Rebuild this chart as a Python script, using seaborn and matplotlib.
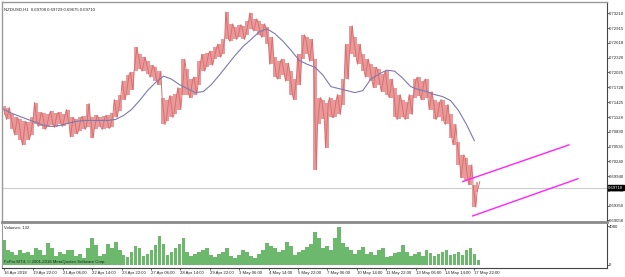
import numpy as np
import pandas as pd
import matplotlib
matplotlib.use("Agg")
import matplotlib.pyplot as plt
import seaborn as sns

# NZDUSD H1 snapshot (one sample per ~4 bars)
header_text = "NZDUSD,H1  0.69708 0.69729 0.69675 0.69710"
last_price = 0.69710

price_high = [
    0.7136, 0.7132, 0.7118, 0.7112, 0.7108, 0.7104, 0.7102, 0.7112, 0.7142, 0.7122,
    0.7120, 0.7118, 0.7124, 0.7120, 0.7122, 0.7118, 0.7128, 0.7112, 0.7108, 0.7112,
    0.7114, 0.7140, 0.7112, 0.7116, 0.7112, 0.7114, 0.7116, 0.7120, 0.7148, 0.7158,
    0.7185, 0.7197, 0.7203, 0.7253, 0.7239, 0.7233, 0.7225, 0.7217, 0.7213, 0.7205,
    0.7152, 0.7148, 0.7156, 0.7160, 0.7172, 0.7229, 0.7209, 0.7189, 0.7193, 0.7225,
    0.7239, 0.7241, 0.7245, 0.7253, 0.7259, 0.7269, 0.7324, 0.7300, 0.7294, 0.7298,
    0.7296, 0.7306, 0.7322, 0.7310, 0.7306, 0.7300, 0.7294, 0.7273, 0.7233, 0.7225,
    0.7229, 0.7221, 0.7205, 0.7189, 0.7239, 0.7278, 0.7273, 0.7269, 0.7229, 0.7152,
    0.7148, 0.7142, 0.7152, 0.7148, 0.7158, 0.7189, 0.7259, 0.7296, 0.7273, 0.7259,
    0.7239, 0.7229, 0.7219, 0.7213, 0.7209, 0.7199, 0.7205, 0.7189, 0.7172, 0.7158,
    0.7148, 0.7144, 0.7158, 0.7189, 0.7193, 0.7185, 0.7189, 0.7164, 0.7148, 0.7144,
    0.7148, 0.7138, 0.7118, 0.7098, 0.7063, 0.7037, 0.7031, 0.7017, 0.6977, 0.6983,
]
price_low = [
    0.7116, 0.7108, 0.7088, 0.7077, 0.7067, 0.7057, 0.7067, 0.7077, 0.7098, 0.7094,
    0.7088, 0.7092, 0.7096, 0.7092, 0.7098, 0.7094, 0.7098, 0.7073, 0.7079, 0.7084,
    0.7088, 0.7092, 0.7071, 0.7088, 0.7092, 0.7088, 0.7090, 0.7092, 0.7112, 0.7124,
    0.7148, 0.7158, 0.7168, 0.7205, 0.7209, 0.7205, 0.7199, 0.7193, 0.7185, 0.7178,
    0.7098, 0.7104, 0.7112, 0.7118, 0.7128, 0.7158, 0.7158, 0.7152, 0.7158, 0.7178,
    0.7205, 0.7213, 0.7217, 0.7229, 0.7233, 0.7239, 0.7269, 0.7265, 0.7269, 0.7273,
    0.7269, 0.7278, 0.7290, 0.7286, 0.7278, 0.7273, 0.7259, 0.7219, 0.7193, 0.7189,
    0.7197, 0.7185, 0.7158, 0.7148, 0.7178, 0.7229, 0.7239, 0.7225, 0.7007, 0.7098,
    0.7108, 0.7051, 0.7112, 0.7112, 0.7118, 0.7138, 0.7189, 0.7239, 0.7233, 0.7219,
    0.7205, 0.7193, 0.7185, 0.7172, 0.7178, 0.7164, 0.7158, 0.7152, 0.7112, 0.7108,
    0.7112, 0.7108, 0.7118, 0.7152, 0.7156, 0.7148, 0.7152, 0.7128, 0.7108, 0.7112,
    0.7104, 0.7098, 0.7071, 0.7057, 0.7017, 0.6991, 0.6987, 0.6977, 0.6932, 0.6962,
]
# moving average, one value every 8 bars
ma_values = [
    0.7128, 0.7120, 0.7114, 0.7108, 0.7102, 0.7096, 0.7094, 0.7096, 0.7100, 0.7104,
    0.7106, 0.7106, 0.7106, 0.7106, 0.7108, 0.7116, 0.7128, 0.7146, 0.7166, 0.7182,
    0.7195, 0.7189, 0.7178, 0.7170, 0.7162, 0.7164, 0.7178, 0.7197, 0.7217, 0.7237,
    0.7255, 0.7269, 0.7284, 0.7290, 0.7280, 0.7265, 0.7247, 0.7227, 0.7219, 0.7213,
    0.7197, 0.7174, 0.7170, 0.7166, 0.7162, 0.7166, 0.7189, 0.7199, 0.7207, 0.7205,
    0.7191, 0.7174, 0.7168, 0.7164, 0.7158, 0.7154, 0.7146, 0.7126, 0.7098, 0.7065,
]
volumes = [
    2620, 1570, 1360, 1050, 1570, 1260, 1360, 1050, 1780, 1570,
    1050, 2300, 1780, 940, 1360, 1150, 1570, 1570, 940, 1150,
    730, 1780, 2820, 2090, 940, 1150, 2200, 1780, 2410, 1570,
    1050, 840, 1360, 1990, 1780, 940, 1150, 1570, 2090, 3030,
    2200, 1050, 1360, 1780, 2200, 2820, 1360, 940, 1150, 1360,
    1570, 1780, 1050, 840, 1150, 1360, 1780, 940, 730, 1050,
    1570, 1360, 940, 730, 1150, 1570, 2300, 1990, 1780, 1360,
    1570, 2410, 1990, 1050, 1360, 1570, 1880, 2200, 3450, 2820,
    1780, 1990, 1570, 2820, 3970, 2300, 1880, 1570, 1150, 1570,
    1880, 1150, 1360, 1050, 1570, 1780, 840, 940, 1260, 1360,
    2090, 1360, 940, 1150, 1360, 940, 1570, 1260, 940, 1150,
    1360, 1570, 1050, 1150, 1360, 1050, 1570, 1780, 1150, 520,
]
volume_text = "Volumes: 132"
volume_max = 4080

# drawn channel
upper_channel_bars = [115, 141.75]
upper_channel = [0.6983, 0.7057]
lower_channel_bars = [117.5, 144]
lower_channel = [0.6914, 0.6989]

price_ticks = ["0.69058", "0.69350", "0.69648", "0.69940", "0.70240", "0.70535",
               "0.70830", "0.71128", "0.71425", "0.71728", "0.72025", "0.72320",
               "0.72618", "0.72915", "0.73210"]
date_labels = ["16 Apr 2018", "19 Apr 22:00", "21 Apr 06:00", "22 Apr 14:00",
               "23 Apr 22:00", "27 Apr 06:00", "28 Apr 14:00", "29 Apr 22:00",
               "3 May 06:00", "4 May 14:00", "5 May 22:00", "7 May 06:00",
               "10 May 14:00", "11 May 22:00", "13 May 06:00", "14 May 14:00",
               "17 May 22:00"]
copyright_text = "FxPro MT4, © 2001-2018 MetaQuotes Software Corp."

sns.set_style("white")
plt.rcParams["font.family"] = ["Liberation Sans", "DejaVu Sans"]
fs = 3.1

df = pd.DataFrame({"bar": np.arange(len(price_high)), "high": price_high,
                   "low": price_low, "volume": volumes})
ma = pd.DataFrame({"bar": np.arange(len(ma_values)) * 2, "ma": ma_values})

# zigzag through high/low of each sample -> dense bar texture
n = len(df)
zx = np.repeat(df["bar"].values, 2) + np.tile([-0.35, 0.35], n)
zy = np.empty(2 * n)
for i in range(n):
    a, b = (df["high"][i], df["low"][i]) if i % 2 == 0 else (df["low"][i], df["high"][i])
    zy[2 * i], zy[2 * i + 1] = a, b

fig = plt.figure(figsize=(6.25, 2.77), dpi=100)
ax = fig.add_axes([0.0032, 0.1986, 0.968, 0.7942])
axv = fig.add_axes([0.0032, 0.0325, 0.968, 0.1588], sharex=ax)

x_max = 151.25

# price
ax.axhline(last_price, color="#cccccc", lw=0.8, zorder=1)
ax.fill_between(df["bar"], df["low"], df["high"], step="mid", color="#e89a9a",
                lw=0, zorder=2)
ax.plot(zx, zy, color="#dc6e6e", lw=0.7, zorder=2)
sns.lineplot(data=ma, x="bar", y="ma", ax=ax, color="#7a7ab4", lw=0.8, zorder=3)
sns.lineplot(x=upper_channel_bars, y=upper_channel, ax=ax, color="#ff22ff", lw=1.0, zorder=4)
sns.lineplot(x=lower_channel_bars, y=lower_channel, ax=ax, color="#ff22ff", lw=1.0, zorder=4)

ax.set_xlim(-0.5, x_max)
ax.set_ylim(0.6902, 0.7344)
ax.set_xlabel("")
ax.set_ylabel("")
ax.yaxis.tick_right()
ax.set_yticks([float(t) for t in price_ticks])
ax.set_yticklabels(price_ticks)
ax.tick_params(axis="y", right=True, length=1.2, width=0.5, pad=0.5, labelsize=fs,
               colors="#222222")
ax.tick_params(axis="x", bottom=False, labelbottom=False)
for side in ["top", "left"]:
    ax.spines[side].set_color("#9a9a9a")
    ax.spines[side].set_linewidth(1.0)
ax.spines["right"].set_color("#444444")
ax.spines["right"].set_linewidth(0.8)
ax.spines["bottom"].set_color("#8a8a8a")
ax.spines["bottom"].set_linewidth(2.0)

ax.text(0.004, 0.975, header_text, transform=ax.transAxes, fontsize=fs,
        ha="left", va="top", color="#222222")
ax.text(1.002, last_price, f"{last_price:.5f}", transform=ax.get_yaxis_transform(),
        fontsize=fs, ha="left", va="center", color="white", zorder=10,
        bbox=dict(boxstyle="square,pad=0.12", fc="black", ec="black"), clip_on=False)

# volume
axv.bar(df["bar"], df["volume"], width=0.95, color="#6cb86c", edgecolor="none")
axv.set_ylim(-314, 4289)
axv.set_yticks([0, volume_max])
axv.set_yticklabels(["0", str(volume_max)])
axv.yaxis.tick_right()
axv.tick_params(axis="y", right=True, length=1.2, width=0.5, pad=0.5, labelsize=fs,
                colors="#222222")
tick_step = 7.375
axv.set_xticks([i * tick_step for i in range(len(date_labels))])
axv.set_xticklabels(date_labels, ha="left")
axv.tick_params(axis="x", bottom=True, length=1.5, width=0.5, pad=0.8, labelsize=fs,
                colors="#222222")
axv.set_xlim(-0.5, x_max)
axv.spines["top"].set_visible(False)
axv.spines["left"].set_color("#9a9a9a")
axv.spines["right"].set_color("#444444")
axv.spines["right"].set_linewidth(0.8)
axv.spines["bottom"].set_color("#444444")
axv.spines["bottom"].set_linewidth(0.8)
axv.text(0.004, 0.96, volume_text, transform=axv.transAxes, fontsize=fs,
         ha="left", va="top", color="#222222")
axv.text(0.004, 0.1, copyright_text, transform=axv.transAxes, fontsize=fs,
         ha="left", va="bottom", color="#222222")

fig.savefig("out.png", dpi=100, facecolor="white")
